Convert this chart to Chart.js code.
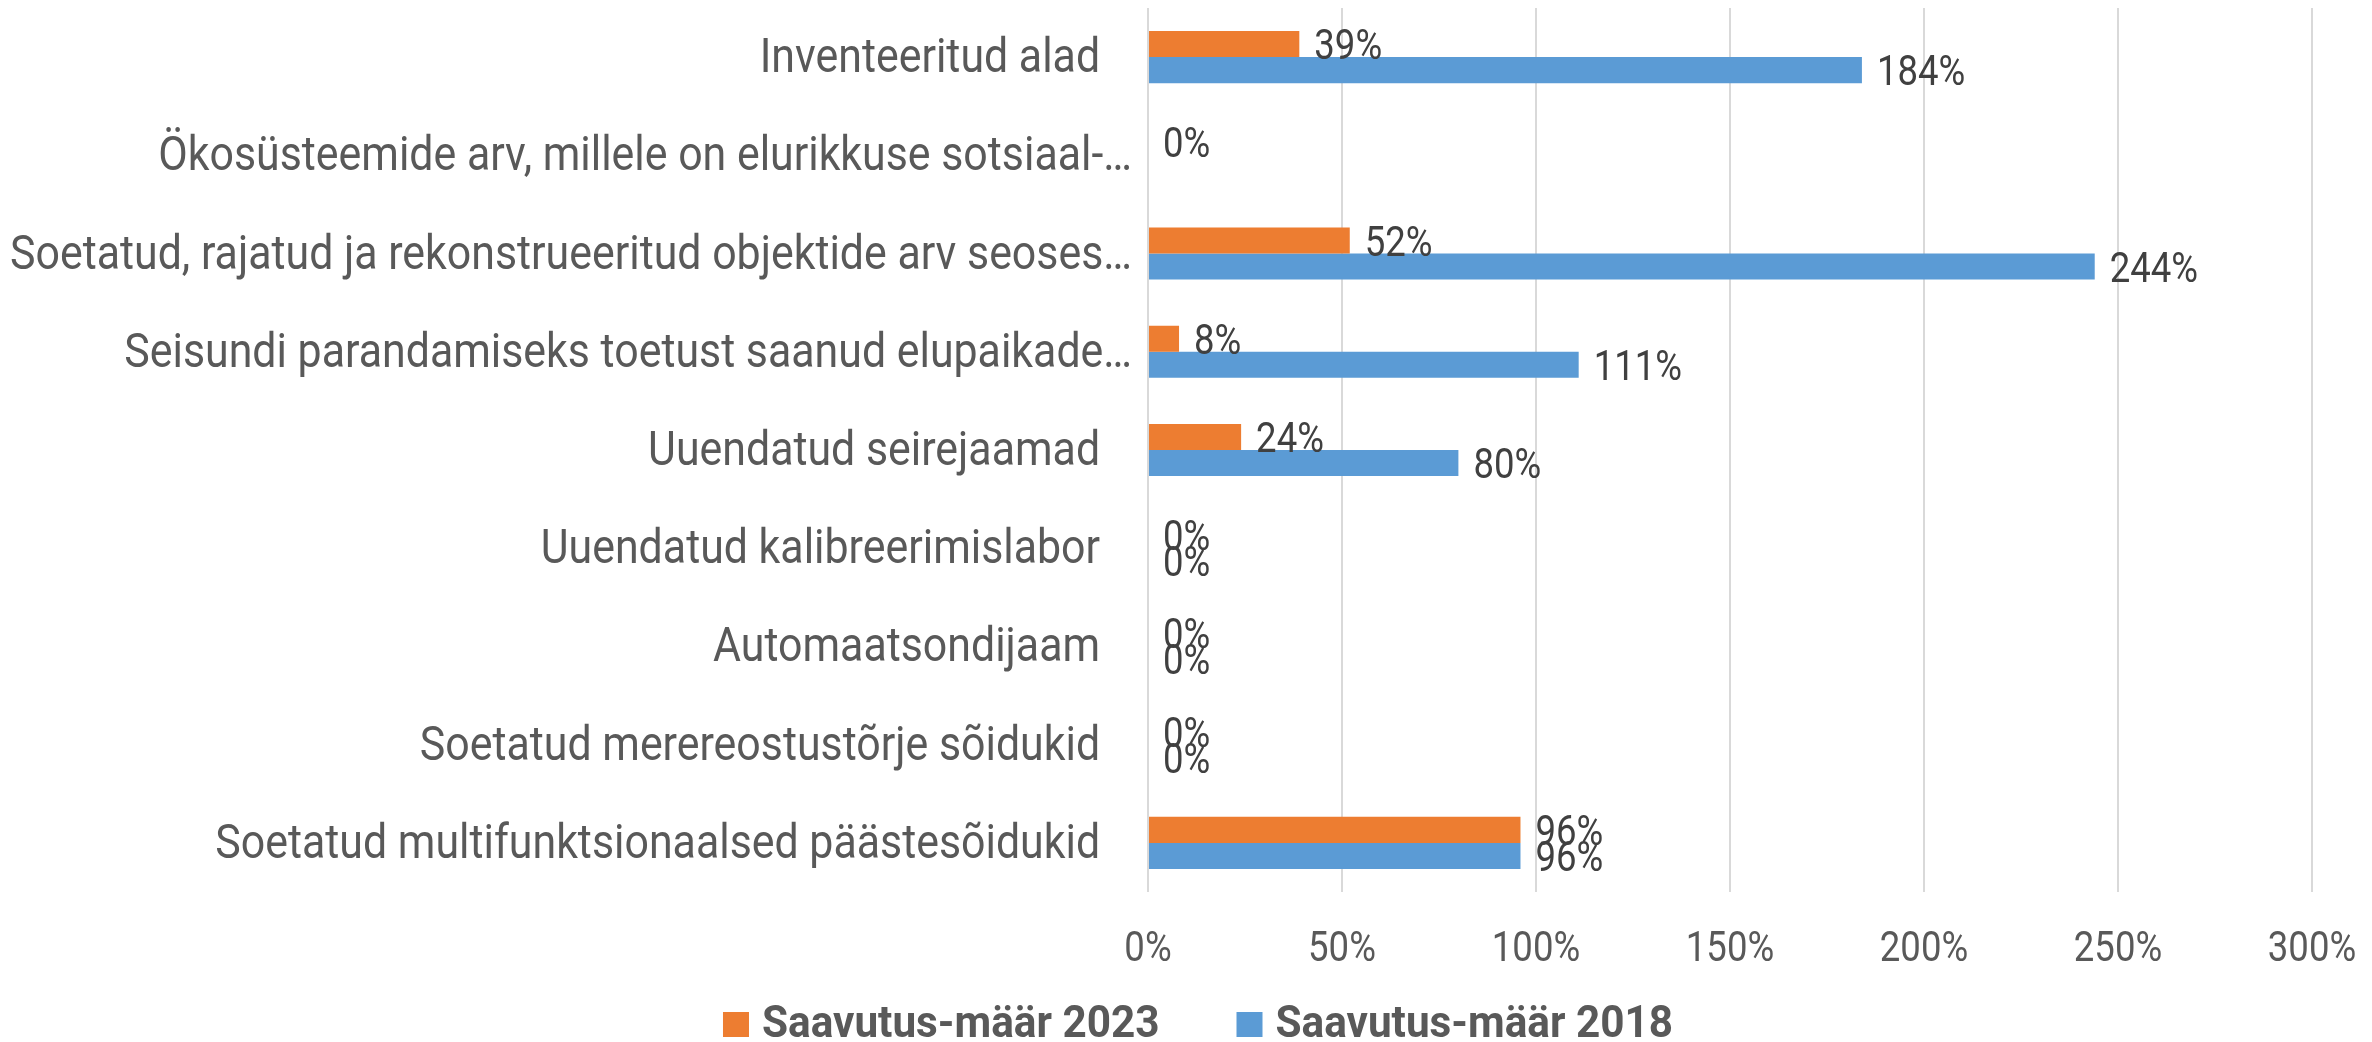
<!DOCTYPE html>
<html>
<head>
<meta charset="utf-8">
<script src="https://cdn.jsdelivr.net/npm/chart.js@4.4.1/dist/chart.umd.min.js"></script>
<style>
  html, body { margin: 0; padding: 0; background: #fff; }
  #wrap { width: 2372px; height: 1042px; }
</style>
</head>
<body>
<div id="wrap"><canvas id="achievementChart" width="2372" height="1042"></canvas></div>
<script>
// Categories (top to bottom), as shown in the chart
const categories = [
    'Inventeeritud alad   ',
    'Ökosüsteemide arv, millele on elurikkuse sotsiaal-…',
    'Soetatud, rajatud ja rekonstrueeritud objektide arv seoses…',
    'Seisundi parandamiseks toetust saanud elupaikade…',
    'Uuendatud seirejaamad   ',
    'Uuendatud kalibreerimislabor   ',
    'Automaatsondijaam   ',
    'Soetatud merereostustõrje sõidukid   ',
    'Soetatud multifunktsionaalsed päästesõidukid   '
];

// Achievement rates in percent
const rate2023 = [39, 0, 52, 8, 24, 0, 0, 0, 96];
const rate2018 = [184, null, 244, 111, 80, 0, 0, 0, 96];

const seriesNames = ['Saavutus-määr 2023', 'Saavutus-määr 2018'];
const seriesColors = ['#ED7D31', '#5B9BD5'];

// x axis ticks in percent
const axisMin = 0;
const axisMax = 300;
const axisStep = 50;

// Condensed look: Roboto squeezed horizontally
const FAMILY = 'Roboto, "Noto Sans", sans-serif';

function drawText(ctx, text, x, y, align, font, color, squeeze) {
    ctx.save();
    ctx.font = font;
    ctx.fillStyle = color;
    ctx.textAlign = align;
    ctx.textBaseline = 'alphabetic';
    ctx.translate(x, y);
    ctx.scale(squeeze, 1);
    ctx.fillText(text, 0, 0);
    ctx.restore();
}

function textWidth(ctx, text, font, squeeze) {
    ctx.save();
    ctx.font = font;
    const w = ctx.measureText(text).width * squeeze;
    ctx.restore();
    return w;
}

// Axis labels, value labels and legend drawn with the condensed text
const textLayer = {
    id: 'textLayer',
    afterDatasetsDraw(chart) {
        const ctx = chart.ctx;
        const xs = chart.scales.x;
        const ys = chart.scales.y;
        const area = chart.chartArea;

        // category labels
        const catFont = '49px ' + FAMILY;
        chart.data.labels.forEach((label, i) => {
            const y = ys.getPixelForValue(i);
            drawText(ctx, label, area.left - 16, y + 15, 'right', catFont, '#595959', 0.875);
        });

        // x tick labels
        const tickFont = '43px ' + FAMILY;
        for (let v = axisMin; v <= axisMax; v += axisStep) {
            drawText(ctx, v + '%', xs.getPixelForValue(v), area.bottom + 69, 'center', tickFont, '#595959', 0.85);
        }

        // value labels at the outer end of each bar
        chart.data.datasets.forEach((ds, i) => {
            chart.getDatasetMeta(i).data.forEach((bar, j) => {
                const v = ds.data[j];
                if (v === null || v === undefined) return;
                drawText(ctx, v + '%', bar.x + 15, bar.y + 15, 'left', tickFont, '#404040', 0.85);
            });
        });

        // legend
        const legFont = 'bold 45px ' + FAMILY;
        const legSqueeze = 0.94;
        const box = 26, gapBox = 13, gapItem = 77;
        const widths = seriesNames.map(n => textWidth(ctx, n, legFont, legSqueeze));
        const total = widths.reduce((a, w) => a + box + gapBox + w, 0) + gapItem * (seriesNames.length - 1);
        let x = chart.width / 2 + 12 - total / 2;
        const yBox = 1012;
        seriesNames.forEach((name, i) => {
            ctx.fillStyle = seriesColors[i];
            ctx.fillRect(x, yBox, box, box - 1);
            x += box + gapBox;
            drawText(ctx, name, x, yBox + 25, 'left', legFont, '#595959', legSqueeze);
            x += widths[i] + gapItem;
        });
    }
};

const ctx = document.getElementById('achievementChart').getContext('2d');

const achievementChart = new Chart(ctx, {
    type: 'bar',
    data: {
        labels: categories,
        datasets: [{
            label: seriesNames[0],
            data: rate2023,
            backgroundColor: seriesColors[0],
            categoryPercentage: 0.53,
            barPercentage: 1.0
        }, {
            label: seriesNames[1],
            data: rate2018,
            backgroundColor: seriesColors[1],
            categoryPercentage: 0.53,
            barPercentage: 1.0
        }]
    },
    options: {
        indexAxis: 'y',
        responsive: false,
        animation: false,
        layout: {
            padding: { top: 8, right: 60, bottom: 0, left: 0 }
        },
        plugins: {
            legend: { display: false },
            tooltip: { enabled: false }
        },
        scales: {
            x: {
                min: axisMin,
                max: axisMax,
                ticks: { stepSize: axisStep, display: false },
                grid: {
                    color: '#D9D9D9',
                    lineWidth: 2,
                    drawTicks: false
                },
                border: { display: false },
                afterFit: (scale) => { scale.height = 150; }
            },
            y: {
                ticks: { display: false },
                grid: { display: false, drawTicks: false },
                border: { display: false },
                afterFit: (scale) => { scale.width = 1148; }
            }
        }
    },
    plugins: [textLayer]
});
</script>
</body>
</html>
